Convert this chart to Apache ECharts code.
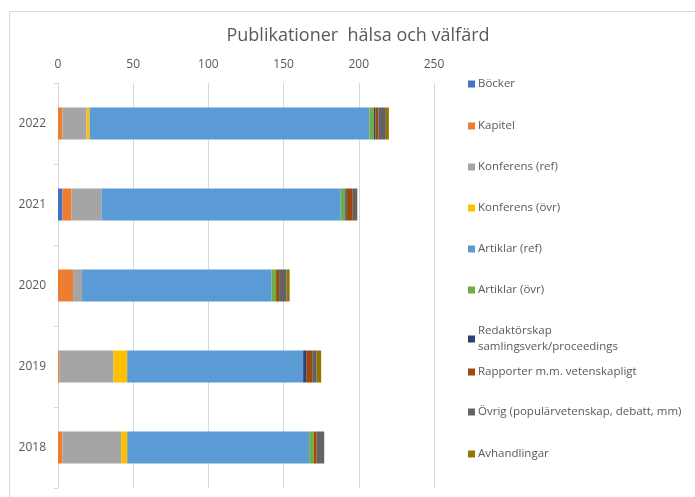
<!DOCTYPE html>
<html>
<head>
<meta charset="utf-8">
<script src="https://cdn.jsdelivr.net/npm/echarts@6/dist/echarts.min.js"></script>
<style>
  html, body { margin: 0; padding: 0; background: #fff; }
  #chart { width: 695px; height: 497px; }
</style>
</head>
<body>
<div id="chart"></div>
<script>
// years, bottom to top
const years = ["2018", "2019", "2020", "2021", "2022"]
const xTicks = [0, 50, 100, 150, 200, 250]

const seriesNames = [
  "Böcker",
  "Kapitel",
  "Konferens (ref)",
  "Konferens (övr)",
  "Artiklar (ref)",
  "Artiklar (övr)",
  "Redaktörskap samlingsverk/proceedings",
  "Rapporter m.m. vetenskapligt",
  "Övrig (populärvetenskap, debatt, mm)",
  "Avhandlingar",
]

// values per series, order 2018..2022
const bocker = [0, 0, 0, 3, 0]
const kapitel = [3, 1, 10, 6, 3]
const konfRef = [39, 36, 6, 20, 16]
const konfOvr = [4, 9, 0, 0, 2]
const artRef = [121, 117, 126, 159, 186]
const artOvr = [3, 0, 3, 3, 3]
const redaktorskap = [0, 2, 0, 1, 1]
const rapporter = [2, 4, 2, 4, 2]
const ovrig = [5, 3, 5, 3, 5]
const avhandlingar = [0, 3, 2, 0, 2]

const seriesData = [bocker, kapitel, konfRef, konfOvr, artRef, artOvr, redaktorskap, rapporter, ovrig, avhandlingar]
const colors = ["#4472C4", "#ED7D31", "#A5A5A5", "#FFC000", "#5B9BD5", "#70AD47", "#264478", "#9E480E", "#636363", "#997300"]

// legend item tops (one legend per entry, like the excel layout)
const legendTops = [71, 113, 154, 195, 236, 277, 318, 359, 399, 441]

const font = "'Open Sans', 'Noto Sans', sans-serif"
const chart = echarts.init(document.getElementById("chart"))

chart.setOption({
  animation: false,
  color: colors,
  textStyle: { fontFamily: font },
  title: {
    text: "Publikationer  hälsa och välfärd",
    left: 353,
    top: 22,
    textAlign: "center",
    textStyle: { fontSize: 18, fontWeight: "normal", color: "#595959", fontFamily: font },
  },
  graphic: [
    {
      type: "rect",
      shape: { x: 9.5, y: 11.5, width: 700, height: 500 },
      style: { fill: "none", stroke: "#d9d9d9", lineWidth: 1 },
      silent: true,
    },
  ],
  grid: { left: 58, right: 261, top: 83, bottom: 9 },
  legend: seriesNames.map((n, i) => ({
    data: [n],
    left: 463,
    top: legendTops[i],
    orient: "vertical",
    itemWidth: 7,
    itemHeight: 7,
    itemGap: 4,
    icon: "rect",
    formatter: (name) => name === "Redaktörskap samlingsverk/proceedings" ? "Redaktörskap\nsamlingsverk/proceedings" : name,
    textStyle: { color: "#595959", fontSize: 11.5, fontFamily: font, lineHeight: 16, padding: [0, 0, 0, -2] },
  })),
  xAxis: {
    type: "value",
    position: "top",
    min: xTicks[0],
    max: xTicks[xTicks.length - 1],
    interval: 50,
    axisLine: { show: false },
    axisTick: { show: false },
    axisLabel: { color: "#595959", fontSize: 12, margin: 12 },
    splitLine: { lineStyle: { color: "#d9d9d9", width: 1 } },
  },
  yAxis: {
    type: "category",
    data: years,
    axisLine: { show: true, lineStyle: { color: "#d9d9d9" } },
    axisTick: { show: true, length: 4, lineStyle: { color: "#d9d9d9" } },
    axisLabel: { color: "#595959", fontSize: 12, margin: 12 },
  },
  series: seriesNames.map((n, i) => ({
    name: n,
    type: "bar",
    stack: "total",
    data: seriesData[i],
    barWidth: 32,
    itemStyle: { color: colors[i] },
  })),
})
</script>
</body>
</html>
